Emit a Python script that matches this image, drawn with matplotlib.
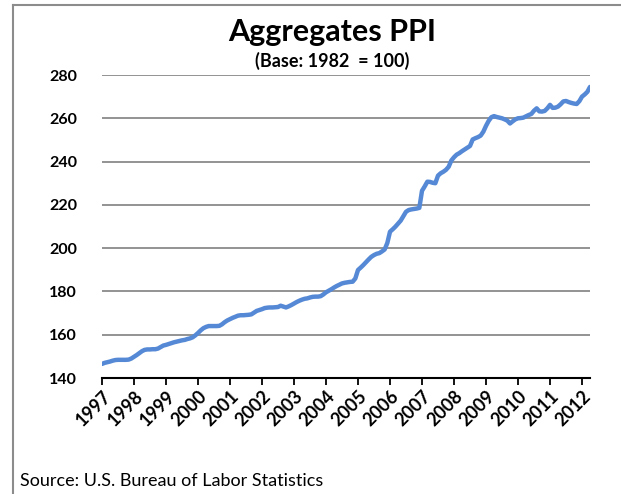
import matplotlib
matplotlib.use("Agg")
import matplotlib.pyplot as plt
from matplotlib.lines import Line2D

plt.rcParams['font.family'] = ['Lato', 'DejaVu Sans']

years = [str(y) for y in range(1997, 2013)]

ppi_1997 = [146.5, 147.0, 147.3, 147.6, 148.0, 148.3, 148.4, 148.4, 148.4, 148.4, 148.5, 149.0]
ppi_1998 = [149.8, 150.6, 151.5, 152.4, 153.0, 153.2, 153.2, 153.3, 153.3, 153.6, 154.3, 155.0]
ppi_1999 = [155.3, 155.7, 156.1, 156.5, 156.8, 157.1, 157.4, 157.6, 158.0, 158.3, 158.8, 159.7]
ppi_2000 = [160.8, 162.0, 163.0, 163.6, 164.0, 164.0, 164.0, 164.0, 164.1, 164.8, 165.8, 166.6]
ppi_2001 = [167.2, 167.8, 168.3, 168.8, 169.0, 169.0, 169.1, 169.2, 169.4, 170.2, 171.0, 171.4]
ppi_2002 = [171.8, 172.3, 172.5, 172.6, 172.6, 172.7, 172.8, 173.4, 173.0, 172.6, 173.1, 173.7]
ppi_2003 = [174.4, 175.1, 175.7, 176.2, 176.6, 176.8, 177.2, 177.5, 177.6, 177.6, 177.8, 178.6]
ppi_2004 = [179.6, 180.3, 181.0, 181.8, 182.5, 183.1, 183.7, 184.0, 184.2, 184.4, 184.5, 186.0]
ppi_2005 = [189.9, 191.0, 192.2, 193.5, 194.8, 196.0, 196.8, 197.4, 197.7, 198.5, 199.4, 202.4]
ppi_2006 = [207.6, 208.7, 209.9, 211.3, 212.7, 214.8, 216.8, 217.6, 217.9, 218.1, 218.3, 218.6]
ppi_2007 = [226.5, 228.5, 230.7, 230.6, 230.2, 230.0, 233.5, 234.6, 235.3, 236.2, 237.6, 240.5]
ppi_2008 = [242.0, 243.2, 243.9, 244.8, 245.6, 246.4, 247.2, 250.2, 250.8, 251.3, 252.0, 253.8]
ppi_2009 = [256.5, 258.8, 260.5, 261.0, 260.6, 260.3, 260.0, 259.5, 258.9, 257.6, 258.6, 259.5]
ppi_2010 = [260.0, 260.1, 260.3, 260.9, 261.5, 262.0, 263.5, 264.6, 263.2, 263.1, 263.4, 264.6]
ppi_2011 = [266.2, 264.8, 264.9, 265.4, 266.5, 267.8, 268.0, 267.5, 267.1, 266.8, 266.6, 267.9]
ppi_2012 = [270.0, 271.0, 272.2, 274.5]

values = (ppi_1997 + ppi_1998 + ppi_1999 + ppi_2000 + ppi_2001 + ppi_2002 +
          ppi_2003 + ppi_2004 + ppi_2005 + ppi_2006 + ppi_2007 + ppi_2008 +
          ppi_2009 + ppi_2010 + ppi_2011 + ppi_2012)
x = list(range(len(values)))

W, H = 621, 494
fig = plt.figure(figsize=(W / 100, H / 100), dpi=100)
fig.patch.set_facecolor('white')

# figure frame (top and left visible)
fig.add_artist(Line2D([13 / W, 13 / W], [0, 1 - 5.5 / H], transform=fig.transFigure,
                      color='#8c8c8c', lw=1.5))
fig.add_artist(Line2D([13 / W, 1], [1 - 5.5 / H, 1 - 5.5 / H], transform=fig.transFigure,
                      color='#8c8c8c', lw=1.5))

ax = fig.add_axes([102 / W, (H - 378) / H, (590 - 102) / W, (378 - 75) / H])
ax.plot(x, values, color='#5589d6', lw=3.2, solid_capstyle='round', solid_joinstyle='round', zorder=3)

ax.set_xlim(0, len(values) - 1)
ax.set_ylim(140, 280)
ax.set_yticks(range(140, 281, 20))
ax.yaxis.grid(True, color='#8a8a8a', lw=1.3)
ax.set_axisbelow(True)
for s in ['top', 'right', 'left']:
    ax.spines[s].set_visible(False)
ax.spines['bottom'].set_color('black')
ax.spines['bottom'].set_linewidth(1.5)
ax.spines['bottom'].set_zorder(4)
ax.tick_params(axis='y', length=0, pad=18, labelsize=11.5)
ax.tick_params(axis='x', length=5, width=1.3, direction='out', pad=2, labelsize=13)
for lab in ax.get_yticklabels():
    lab.set_fontweight('bold')

ax.set_xticks(range(0, len(values), 12))
ax.set_xticklabels(years, rotation=45, ha='right', rotation_mode='anchor', fontweight='bold')

fig.text(332 / W, 1 - 32 / H, 'Aggregates PPI', ha='center', va='center',
         fontsize=22, fontweight='bold')
fig.text(332 / W, 1 - 61 / H, '(Base: 1982  = 100)', ha='center', va='center',
         fontsize=13, fontweight='bold')
fig.text(20 / W, 1 - 481 / H, 'Source: U.S. Bureau of Labor Statistics', ha='left', va='center',
         fontsize=13)

fig.savefig('out.png', dpi=100, facecolor='white')
